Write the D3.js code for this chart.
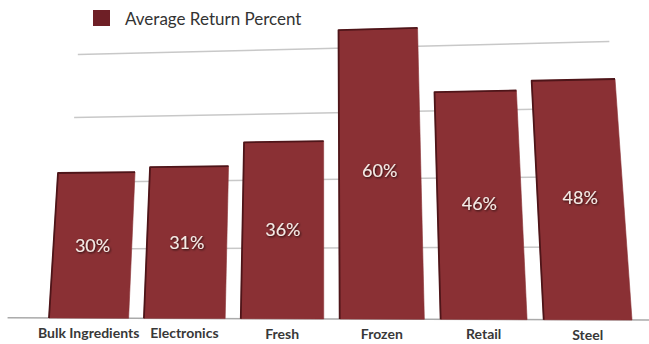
<!DOCTYPE html>
<html>
<head>
<meta charset="utf-8">
<script src="https://cdn.jsdelivr.net/npm/d3@7"></script>
<style>
  body { margin: 0; background: #fff; overflow: hidden; }
  text { font-family: Lato, "Open Sans", sans-serif; }
</style>
</head>
<body>
<svg id="chart" width="649" height="344"></svg>
<script>
const categories = ["Bulk Ingredients", "Electronics", "Fresh", "Frozen", "Retail", "Steel"];
const returns = [30, 31, 36, 60, 46, 48];
const gridTicks = [14, 28, 42, 56];
const seriesName = "Average Return Percent";

const barColor = "#8a3034";

// flat chart coordinates, projected into the photo's perspective below
const x = d3.scaleBand()
  .domain(categories)
  .range([50, 630])
  .paddingInner(0.16)
  .paddingOuter(0);

const y = d3.scaleLinear()
  .domain([0, 60])
  .range([319, 28]);

function homography(src, dst) {
  const A = [], b = [];
  for (let i = 0; i < 4; i++) {
    const [sx, sy] = src[i], [dx, dy] = dst[i];
    A.push([sx, sy, 1, 0, 0, 0, -sx * dx, -sy * dx]); b.push(dx);
    A.push([0, 0, 0, sx, sy, 1, -sx * dy, -sy * dy]); b.push(dy);
  }
  const n = 8;
  for (let c = 0; c < n; c++) {
    let p = c;
    for (let r = c + 1; r < n; r++) if (Math.abs(A[r][c]) > Math.abs(A[p][c])) p = r;
    [A[c], A[p]] = [A[p], A[c]]; [b[c], b[p]] = [b[p], b[c]];
    for (let r = 0; r < n; r++) {
      if (r === c) continue;
      const f = A[r][c] / A[c][c];
      for (let k = c; k < n; k++) A[r][k] -= f * A[c][k];
      b[r] -= f * b[c];
    }
  }
  return b.map((v, i) => v / A[i][i]);
}

// four bar corners and where they sit in the photo
const first = categories[0], last = categories[categories.length - 1];
const src = [
  [x(first), y(0)],
  [x(last) + x.bandwidth(), y(0)],
  [x(last) + x.bandwidth(), y(48)],
  [x(first), y(30)]
];
const dst = [[49, 318], [632, 320], [615, 79], [58, 173]];
const h = homography(src, dst);

function proj(px, py) {
  const w = h[6] * px + h[7] * py + 1;
  return [(h[0] * px + h[1] * py + h[2]) / w, (h[3] * px + h[4] * py + h[5]) / w];
}

const svg = d3.select("#chart");

const defs = svg.append("defs");
const f = defs.append("filter").attr("id", "sh")
  .attr("x", "-20%").attr("y", "-20%").attr("width", "140%").attr("height", "140%");
f.append("feDropShadow")
  .attr("dx", 1).attr("dy", 1).attr("stdDeviation", 0.8)
  .attr("flood-color", "#000").attr("flood-opacity", 0.75);

const line = d3.line();

// gridlines
svg.append("g")
  .selectAll("path")
  .data(gridTicks)
  .join("path")
    .attr("d", d => line([proj(64, y(d)), proj(627, y(d))]))
    .attr("fill", "none")
    .attr("stroke", "#c8c8c8")
    .attr("stroke-width", 1.5);

// baseline
svg.append("path")
  .attr("d", line([proj(6, y(0)), proj(652, y(0))]))
  .attr("stroke", "#aaa")
  .attr("stroke-width", 1.5);

const data = categories.map((c, i) => ({ c, v: returns[i] }));

const corners = d => {
  const x0 = x(d.c), x1 = x(d.c) + x.bandwidth();
  return [proj(x0, y(0)), proj(x0, y(d.v)), proj(x1, y(d.v)), proj(x1, y(0))];
};

const bars = svg.append("g")
  .selectAll("g")
  .data(data)
  .join("g");

bars.append("path")
  .attr("d", d => line(corners(d)) + "Z")
  .attr("fill", barColor)
  .attr("stroke", barColor)
  .attr("stroke-width", 0.6)
  .attr("stroke-linejoin", "round");

// darker left / top edge for the bevelled look
bars.append("path")
  .attr("d", d => {
    const [bl, tl, tr] = corners(d);
    return line([bl, tl, tr]);
  })
  .attr("fill", "none")
  .attr("stroke", "#4e1519")
  .attr("stroke-width", 1.8)
  .attr("stroke-linejoin", "round");

bars.append("text")
  .attr("x", d => proj(x(d.c) + x.bandwidth() / 2, (y(d.v) + y(0)) / 2)[0])
  .attr("y", d => proj(x(d.c) + x.bandwidth() / 2, (y(d.v) + y(0)) / 2)[1] + 8)
  .attr("text-anchor", "middle")
  .attr("font-size", 18)
  .attr("fill", "#f3ebe6")
  .attr("filter", "url(#sh)")
  .text(d => d.v + "%");

svg.append("g")
  .selectAll("text")
  .data(categories)
  .join("text")
    .attr("x", d => proj(x(d) + x.bandwidth() / 2, y(0))[0])
    .attr("y", d => proj(x(d) + x.bandwidth() / 2, y(0))[1] + 20)
    .attr("text-anchor", "middle")
    .attr("font-size", 14)
    .attr("font-weight", 700)
    .attr("fill", "#383838")
    .text(d => d);

// legend
svg.append("rect")
  .attr("x", 93).attr("y", 10)
  .attr("width", 17).attr("height", 16)
  .attr("fill", "#6e1f26");
svg.append("text")
  .attr("x", 125).attr("y", 25)
  .attr("font-size", 17)
  .attr("fill", "#333")
  .text(seriesName);
</script>
</body>
</html>
